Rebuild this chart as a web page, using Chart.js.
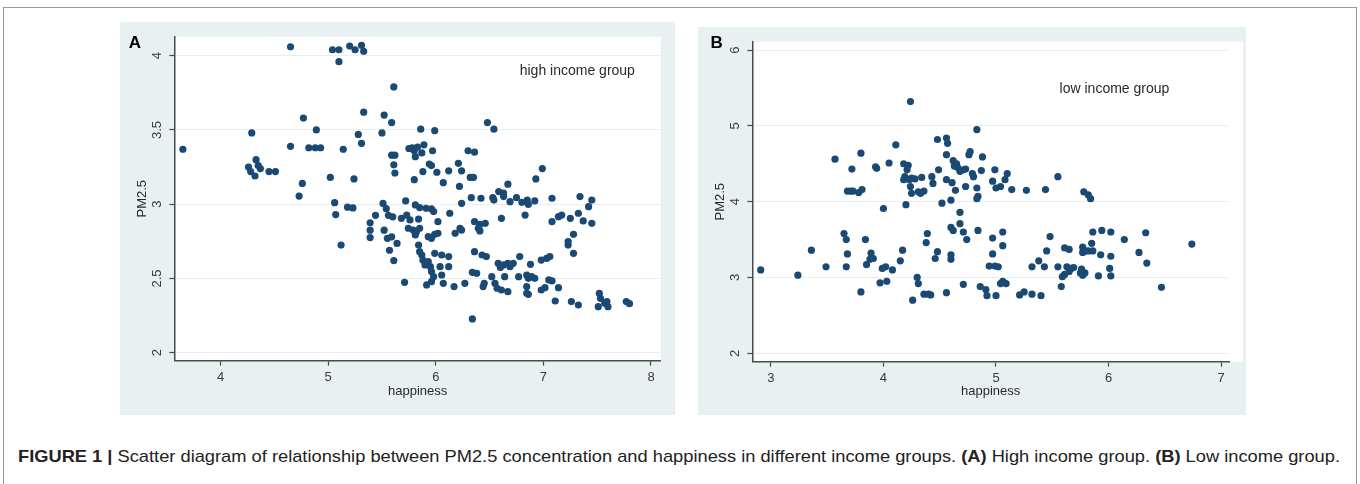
<!DOCTYPE html>
<html lang="en">
<head>
    <meta charset="UTF-8">
    <title>PM2.5 and happiness by income group</title>
    <script src="https://cdn.jsdelivr.net/npm/chart.js"></script>
    <style>
        body {
            margin: 0;
            width: 1360px;
            height: 484px;
            overflow: hidden;
            background: #fff;
            font-family: "Liberation Sans", Arial, sans-serif;
            position: relative;
        }
        .frame {
            position: absolute;
            left: 3px;
            top: 7px;
            width: 1352px;
            height: 500px;
            border: 1px solid #9a9a9a;
            border-bottom: none;
        }
        .panel {
            position: absolute;
            background: #e9f0f2;
        }
        #panelA { left: 120px; top: 22px; width: 555px; height: 393px; }
        #panelB { left: 698px; top: 27px; width: 548px; height: 388px; }
        .caption {
            position: absolute;
            left: 18px;
            top: 447px;
            font-family: "Liberation Sans Narrow", "Arial Narrow", "Liberation Sans", sans-serif;
            font-size: 17px;
            color: #222;
            white-space: nowrap;
            transform-origin: left center;
        }
        .caption b { font-weight: bold; }
    </style>
</head>
<body>
    <div class="frame"></div>
    <div class="panel" id="panelA"><canvas id="chartA" width="555" height="393"></canvas></div>
    <div class="panel" id="panelB"><canvas id="chartB" width="548" height="388"></canvas></div>
    <div class="caption" id="caption"><b>FIGURE 1 |</b> Scatter diagram of relationship between PM2.5 concentration and happiness in different income groups. <b>(A)</b> High income group. <b>(B)</b> Low income group.</div>

    <script>
        // [happiness, PM2.5]
        const highIncome = [
            [4.65, 4.06], [5.04, 4.04], [5.10, 4.04], [5.10, 3.96], [5.20, 4.065], [5.25, 4.04], [5.31, 4.07], [5.33, 4.03],
            [5.61, 3.79], [5.33, 3.62], [5.52, 3.60], [5.59, 3.55], [5.50, 3.48], [5.28, 3.47], [5.31, 3.41], [5.14, 3.37],
            [4.77, 3.58], [4.89, 3.50], [4.29, 3.48], [3.65, 3.37], [4.65, 3.39], [4.82, 3.38], [4.88, 3.38], [4.93, 3.38],
            [4.26, 3.25], [4.28, 3.22], [4.32, 3.19], [4.33, 3.30], [4.35, 3.26], [4.37, 3.24], [4.45, 3.22], [4.51, 3.22],
            [4.76, 3.14], [4.73, 3.055], [5.02, 3.18], [5.24, 3.17], [5.06, 3.01], [5.07, 2.93], [5.18, 2.98], [5.23, 2.975],
            [5.12, 2.725], [5.44, 2.925], [5.39, 2.875], [5.39, 2.825], [5.39, 2.775], [5.51, 3.005], [5.54, 2.97], [5.52, 2.825],
            [5.55, 2.77], [5.59, 2.78], [5.57, 2.69], [5.61, 2.62], [5.56, 2.925], [5.60, 2.915], [5.59, 3.33], [5.62, 3.33],
            [5.61, 3.265], [5.62, 3.21], [5.75, 3.375], [5.78, 3.38], [5.80, 3.36], [5.83, 3.385], [5.81, 3.32], [5.86, 3.505],
            [5.89, 3.40], [5.87, 3.345], [5.99, 3.495], [5.97, 3.36], [5.94, 3.27], [5.96, 3.26], [5.88, 3.22], [6.01, 3.215],
            [5.80, 3.165], [6.07, 3.145], [6.12, 3.225], [6.21, 3.275], [6.24, 3.225], [6.22, 3.12], [6.30, 3.36], [6.36, 3.35],
            [6.32, 3.18], [6.35, 3.18], [6.48, 3.55], [6.54, 3.505], [6.67, 3.135], [6.93, 3.17], [6.99, 3.24], [6.585, 3.085],
            [6.63, 3.075],
            [6.33, 3.044], [6.42, 3.04], [6.53, 3.044], [6.54, 3.028], [6.63, 3.051], [6.69, 3.017], [6.75, 3.044], [6.80, 3.013],
            [6.85, 3.028], [6.86, 2.999], [6.92, 3.022], [7.08, 3.04], [7.34, 3.051], [7.45, 3.028], [7.42, 2.983],
            [5.72, 3.022], [5.81, 2.995], [5.85, 2.977], [5.91, 2.972], [5.96, 2.968], [5.98, 2.95], [6.24, 3.006], [6.13, 2.939],
            [5.68, 2.905], [5.73, 2.927], [5.76, 2.894], [5.84, 2.90], [5.745, 2.838], [5.79, 2.826], [5.82, 2.815], [5.85, 2.838],
            [5.81, 2.793], [5.93, 2.781], [5.96, 2.77], [5.99, 2.797], [6.02, 2.804], [6.02, 2.882], [6.36, 2.882], [6.41, 2.864],
            [6.46, 2.871], [6.395, 2.838], [6.41, 2.82], [6.18, 2.804], [6.225, 2.838], [6.24, 2.826], [6.61, 2.905], [6.83, 2.927],
            [7.08, 2.882], [7.14, 2.916], [7.17, 2.927], [7.25, 2.905], [7.325, 2.939], [7.37, 2.887], [7.45, 2.871], [7.28, 2.797],
            [7.23, 2.748], [7.23, 2.725], [7.28, 2.669], [5.84, 2.725], [5.85, 2.68], [5.87, 2.658], [5.88, 2.624], [5.90, 2.591],
            [5.93, 2.613], [5.95, 2.579], [5.96, 2.546], [5.98, 2.512], [5.96, 2.478], [5.915, 2.456], [5.99, 2.669], [6.055, 2.658],
            [6.12, 2.647], [6.04, 2.579], [6.12, 2.579], [6.055, 2.523], [6.07, 2.467], [5.71, 2.474], [5.64, 2.736], [6.17, 2.445],
            [6.27, 2.467], [6.36, 2.68], [6.43, 2.658], [6.47, 2.647], [6.34, 2.541], [6.38, 2.535], [6.45, 2.467], [6.44, 2.445],
            [6.52, 2.512], [6.55, 2.467], [6.57, 2.434], [6.61, 2.422], [6.64, 2.512], [6.67, 2.411], [6.58, 2.602], [6.63, 2.591],
            [6.67, 2.602], [6.72, 2.602], [6.78, 2.647], [6.60, 2.573], [6.69, 2.579], [6.88, 2.595], [6.77, 2.512], [6.845, 2.523],
            [6.86, 2.501], [6.89, 2.512], [6.92, 2.501], [6.845, 2.445], [6.845, 2.40], [6.86, 2.393], [6.98, 2.624], [7.03, 2.635],
            [7.06, 2.647], [6.98, 2.422], [7.015, 2.438], [7.05, 2.49], [7.08, 2.483], [7.14, 2.438], [7.11, 2.348], [7.26, 2.344],
            [7.325, 2.321], [7.52, 2.40], [7.53, 2.366], [7.51, 2.31], [7.57, 2.333], [7.59, 2.344], [7.60, 2.31], [7.77, 2.344],
            [7.80, 2.33], [6.34, 2.227]
        ];

        const lowIncome = [
            [2.91, 3.10], [3.24, 3.03], [3.36, 3.36], [3.49, 3.14], [3.57, 4.56], [3.65, 3.58], [3.67, 3.50], [3.68, 3.31],
            [3.67, 3.14], [3.72, 4.43], [3.68, 4.14], [3.71, 4.14], [3.73, 4.14], [3.78, 4.12], [3.81, 4.16], [3.80, 4.64],
            [3.80, 2.81], [3.84, 3.50], [3.85, 3.17], [3.88, 3.24], [3.89, 3.32], [3.91, 3.25], [3.93, 4.46], [3.94, 4.44],
            [4.05, 4.51], [4.11, 4.75], [4.00, 3.91], [3.99, 3.12], [4.02, 3.14], [3.97, 2.93], [4.03, 2.95], [4.08, 3.10],
            [4.15, 3.22], [4.17, 3.36], [4.24, 5.32], [4.18, 4.50], [4.22, 4.48], [4.21, 4.42], [4.18, 4.29], [4.19, 4.33],
            [4.23, 4.29], [4.25, 4.31], [4.28, 4.30], [4.24, 4.20], [4.25, 4.11], [4.20, 3.96], [4.34, 4.32], [4.31, 4.13],
            [4.33, 4.11], [4.36, 4.14], [4.43, 4.33], [4.44, 4.24], [4.49, 4.42], [4.48, 4.82], [4.56, 4.84], [4.57, 4.77],
            [4.56, 4.62], [4.52, 3.98], [4.60, 4.02], [4.56, 4.29], [4.61, 4.25], [4.64, 4.15], [4.62, 4.54], [4.63, 4.47],
            [4.65, 4.50], [4.66, 4.45], [4.68, 4.40], [4.71, 4.42], [4.73, 4.43], [4.73, 4.20], [4.76, 4.62], [4.77, 4.66],
            [4.79, 4.37], [4.80, 4.33], [4.83, 4.95], [4.87, 4.41], [4.83, 4.18], [4.84, 4.07], [4.83, 4.04], [4.88, 4.59],
            [4.68, 3.86], [4.68, 3.71], [4.60, 3.66], [4.62, 3.62], [4.71, 3.60], [4.74, 3.50], [4.84, 3.62], [4.60, 3.30],
            [4.60, 3.24], [4.39, 3.58], [4.38, 3.46], [4.48, 3.34], [4.46, 3.25], [4.30, 3.00], [4.31, 2.92], [4.26, 2.70],
            [4.36, 2.78], [4.40, 2.78], [4.42, 2.77], [4.56, 2.80], [4.71, 2.91], [4.86, 2.88], [4.91, 2.84], [4.92, 2.76],
            [5.00, 2.76], [4.97, 3.52], [4.97, 3.31], [4.94, 3.15], [4.99, 3.15], [5.02, 3.14], [5.06, 3.60], [5.06, 3.42],
            [5.04, 2.92], [5.06, 2.95], [5.09, 2.92], [4.99, 4.42], [4.97, 4.27], [5.00, 4.18], [5.04, 4.20], [5.08, 4.29],
            [5.10, 4.37], [5.14, 4.16], [5.27, 4.15], [5.44, 4.16], [5.55, 4.33], [5.32, 3.14], [5.38, 3.22], [5.43, 3.14],
            [5.45, 3.35], [5.48, 3.54], [5.21, 2.77], [5.25, 2.81], [5.32, 2.78], [5.40, 2.76], [5.55, 3.14], [5.59, 3.01],
            [5.58, 2.88], [5.61, 3.04], [5.61, 3.39], [5.65, 3.37], [5.63, 3.14], [5.65, 3.08], [5.67, 3.12], [5.69, 3.13],
            [5.76, 3.11], [5.77, 3.03], [5.79, 3.06], [5.75, 3.06], [5.77, 3.40], [5.77, 3.33], [5.79, 3.35], [5.82, 3.35],
            [5.86, 3.35], [5.85, 3.45], [5.86, 3.60], [5.78, 4.13], [5.82, 4.09], [5.84, 4.04], [5.94, 3.62], [5.91, 3.02],
            [5.93, 3.30], [6.02, 3.60], [6.02, 3.28], [6.01, 3.12], [6.02, 3.02], [6.14, 3.50], [6.27, 3.33], [6.33, 3.59],
            [6.34, 3.19], [6.47, 2.87], [6.74, 3.44]
        ];

        const xTicksA = [4, 5, 6, 7, 8];
        const yTicksA = [2, 2.5, 3, 3.5, 4];
        const xTicksB = [3, 4, 5, 6, 7];
        const yTicksB = [2, 3, 4, 5, 6];

        const DOT = '#1a4a73';
        const AXIS = '#4a4a4a';
        const FONT = '"Liberation Sans", Arial, sans-serif';

        // white plot region, rotated y labels, note text and panel letter
        const stataLook = {
            id: 'stataLook',
            beforeDraw(chart, args, opts) {
                const { ctx, chartArea: a } = chart;
                ctx.save();
                ctx.fillStyle = '#ffffff';
                ctx.fillRect(a.left, a.top, a.right - a.left + opts.extraRight, a.bottom - a.top);
                ctx.restore();
            },
            afterDraw(chart, args, opts) {
                const { ctx } = chart;
                const xs = chart.scales.x, ys = chart.scales.y;
                ctx.save();
                ctx.fillStyle = '#3a3a3a';
                ctx.font = '13px ' + FONT;
                ctx.textAlign = 'center';
                ctx.textBaseline = 'middle';
                ys.ticks.forEach(t => {
                    ctx.save();
                    ctx.translate(ys.right - opts.labelGap, ys.getPixelForValue(t.value));
                    ctx.rotate(-Math.PI / 2);
                    ctx.fillText(String(t.value), 0, 0);
                    ctx.restore();
                });
                ctx.fillStyle = '#2a2a2a';
                ctx.font = '14px ' + FONT;
                ctx.textAlign = 'left';
                ctx.fillText(opts.note.text, xs.getPixelForValue(opts.note.x), ys.getPixelForValue(opts.note.y));
                ctx.fillStyle = '#000';
                ctx.font = 'bold 17px ' + FONT;
                ctx.fillText(opts.letter, opts.letterPos[0], opts.letterPos[1]);
                ctx.restore();
            }
        };

        function makeChart(id, points, xTicks, yTicks, xRange, yRange, pad, deco, titlePad) {
            const ctx = document.getElementById(id).getContext('2d');
            return new Chart(ctx, {
                type: 'scatter',
                data: {
                    datasets: [{
                        data: points.map(p => ({ x: p[0], y: p[1] })),
                        backgroundColor: DOT,
                        borderWidth: 0,
                        pointRadius: 3.6,
                    }],
                },
                options: {
                    responsive: false,
                    animation: false,
                    devicePixelRatio: 1,
                    layout: { padding: pad },
                    plugins: {
                        legend: { display: false },
                        tooltip: { enabled: false },
                        stataLook: deco,
                    },
                    scales: {
                        x: {
                            type: 'linear',
                            min: xRange[0],
                            max: xRange[1],
                            afterBuildTicks: s => { s.ticks = xTicks.map(v => ({ value: v })); },
                            afterFit: s => { s.height = 50; },
                            border: { color: AXIS, width: 1.5 },
                            grid: { drawOnChartArea: false, drawTicks: true, tickLength: 5, tickColor: AXIS, tickWidth: 1.2 },
                            ticks: { color: '#3a3a3a', font: { size: 13, family: FONT }, padding: 4, maxRotation: 0 },
                            title: {
                                display: true,
                                text: 'happiness',
                                color: '#2a2a2a',
                                font: { size: 13, family: FONT },
                                padding: { top: 0, bottom: titlePad.x },
                            },
                        },
                        y: {
                            type: 'linear',
                            min: yRange[0],
                            max: yRange[1],
                            afterBuildTicks: s => { s.ticks = yTicks.map(v => ({ value: v })); },
                            afterFit: s => { s.width = 40; },
                            border: { color: AXIS, width: 1.5 },
                            grid: { color: '#e6eef0', lineWidth: 1, drawTicks: true, tickLength: 5, tickColor: AXIS, tickWidth: 1.2 },
                            ticks: { display: false },
                            title: {
                                display: true,
                                text: 'PM2.5',
                                color: '#2a2a2a',
                                font: { size: 13, family: FONT },
                                padding: { top: titlePad.y, bottom: 0 },
                            },
                        },
                    },
                },
                plugins: [stataLook],
            });
        }

        makeChart('chartA', highIncome, xTicksA, yTicksA, [3.571, 8.092], [1.946, 4.128],
            { left: 14.4, top: 14.7, right: 14.1, bottom: 4.3 },
            { extraRight: 0, labelGap: 17, note: { text: 'high income group', x: 6.78, y: 3.895 }, letter: 'A', letterPos: [8.7, 21.3] },
            { x: 11, y: 0 });

        makeChart('chartB', lowIncome, xTicksB, yTicksB, [2.836, 7.07], [1.889, 6.11],
            { left: 14.4, top: 14.7, right: 17, bottom: 3.3 },
            { extraRight: 14, labelGap: 16.5, note: { text: 'low income group', x: 5.565, y: 5.486 }, letter: 'B', letterPos: [12.6, 16] },
            { x: 12.3, y: 0.3 });

        // stretch the caption line to the width it has in the figure
        const cap = document.getElementById('caption');
        cap.style.transform = 'scaleX(' + (1322 / cap.getBoundingClientRect().width) + ')';
    </script>
</body>
</html>
